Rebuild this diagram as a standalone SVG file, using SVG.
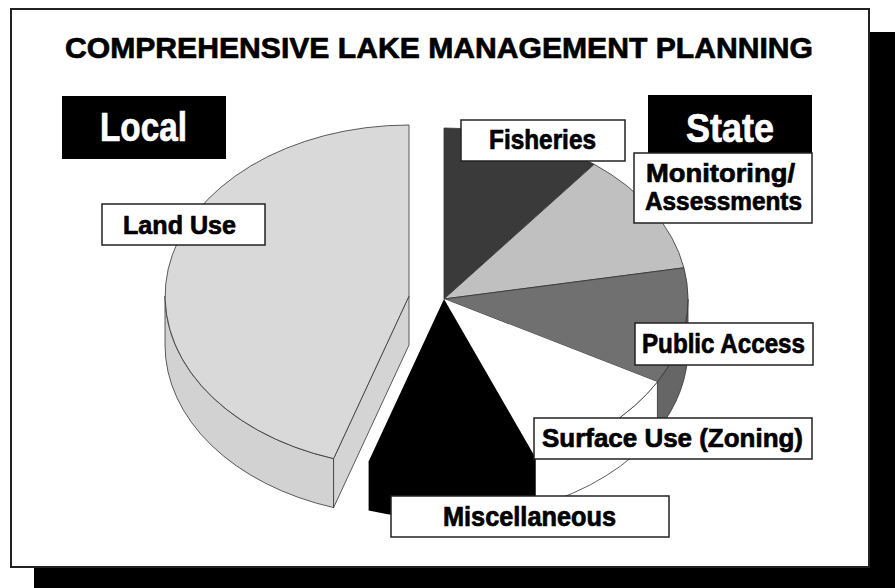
<svg xmlns="http://www.w3.org/2000/svg" width="895" height="588" viewBox="0 0 895 588">
<style>
.t{font-family:"Liberation Sans",Arial,sans-serif;font-weight:bold;fill:#000;stroke:#000;stroke-width:0.7;stroke-linejoin:round}
.w{fill:#fff;stroke:#fff}
.box{fill:#fff;stroke:#222;stroke-width:1.5}
.blk{fill:#000}
.edge{stroke:#333;stroke-width:0.8;stroke-linejoin:round}
</style>
<rect x="34" y="32" width="861" height="556" fill="#000"/>
<rect x="11" y="9" width="858" height="558" fill="#fff" stroke="#222" stroke-width="2"/>
<text class="t" x="65" y="58" font-size="30" textLength="748" lengthAdjust="spacingAndGlyphs">COMPREHENSIVE LAKE MANAGEMENT PLANNING</text>

<g id="local">
<rect class="blk" x="62" y="96" width="164" height="63"/>
<text class="t w" x="100" y="141" font-size="40" textLength="87" lengthAdjust="spacingAndGlyphs">Local</text>
</g>
<g id="state">
<rect class="blk" x="648" y="95" width="164" height="63"/>
<text class="t w" x="686" y="142" font-size="40" textLength="88" lengthAdjust="spacingAndGlyphs">State</text>
</g>

<g id="pie-land-use">
<path class="edge" fill="#d2d2d2" d="M333.6,458.6 A244,171 0 0 1 165,296 L165,345 A244,171 0 0 0 333.6,507.6 Z"/>
<path class="edge" fill="#d4d4d4" d="M409,296 L333.6,458.6 L333.6,507.6 L409,345 Z"/>
<path class="edge" fill="#d9d9d9" d="M409,296 L333.6,458.6 A244,171 0 0 1 409,125 Z"/>
</g>
<g id="pie-fisheries">
<path fill="#3a3a3a" class="edge" d="M444,299 L444,128 A244,171 0 0 1 594.2,164.3 Z"/>
</g>
<g id="pie-monitoring">
<path fill="#c0c0c0" class="edge" d="M444,299 L594.2,164.3 A244,171 0 0 1 683.9,267.8 Z"/>
</g>
<g id="pie-public-access">
<path fill="#666" class="edge" d="M688,299 A244,171 0 0 1 657.4,381.9 L657.4,430.9 A244,171 0 0 0 688,348 Z"/>
<path fill="#707070" class="edge" d="M444,299 L683.9,267.8 A244,171 0 0 1 657.4,381.9 Z"/>
</g>
<g id="pie-surface-use">
<path fill="#fff" class="edge" d="M657.4,381.9 A244,171 0 0 1 535.4,457.5 L535.4,506.5 A244,171 0 0 0 657.4,430.9 Z"/>
<path fill="#fff" d="M444,299 L657.4,381.9 A244,171 0 0 1 535.4,457.5 Z"/>
<path fill="none" class="edge" d="M657.4,381.9 A244,171 0 0 1 535.4,457.5"/>
</g>
<g id="pie-misc">
<path fill="#000" d="M444,299 L535.4,457.5 L535.4,506.5 A244,171 0 0 1 368.6,510.6 L368.6,461.6 Z"/>
</g>

<g id="label-fisheries">
<rect class="box" x="461" y="120" width="164" height="41"/>
<text class="t" x="489" y="149" font-size="27" textLength="107" lengthAdjust="spacingAndGlyphs">Fisheries</text>
</g>
<g id="label-monitoring">
<rect class="box" x="634" y="153" width="178" height="70"/>
<text class="t" x="646" y="182" font-size="25.5" textLength="149" lengthAdjust="spacingAndGlyphs">Monitoring/</text>
<text class="t" x="645" y="210" font-size="25.5" textLength="157" lengthAdjust="spacingAndGlyphs">Assessments</text>
</g>
<g id="label-land-use">
<rect class="box" x="102" y="204" width="163" height="41"/>
<text class="t" x="123" y="234" font-size="26" textLength="113" lengthAdjust="spacingAndGlyphs">Land Use</text>
</g>
<g id="label-public-access">
<rect class="box" x="635" y="323" width="178" height="42"/>
<text class="t" x="642" y="353" font-size="27" textLength="163" lengthAdjust="spacingAndGlyphs">Public Access</text>
</g>
<g id="label-surface-use">
<rect class="box" x="534" y="418" width="278" height="41"/>
<text class="t" x="542" y="447" font-size="26.5" textLength="261" lengthAdjust="spacingAndGlyphs">Surface Use (Zoning)</text>
</g>
<g id="label-misc">
<rect class="box" x="391" y="496" width="278" height="41"/>
<text class="t" x="443" y="526" font-size="27" textLength="173" lengthAdjust="spacingAndGlyphs">Miscellaneous</text>
</g>
</svg>
